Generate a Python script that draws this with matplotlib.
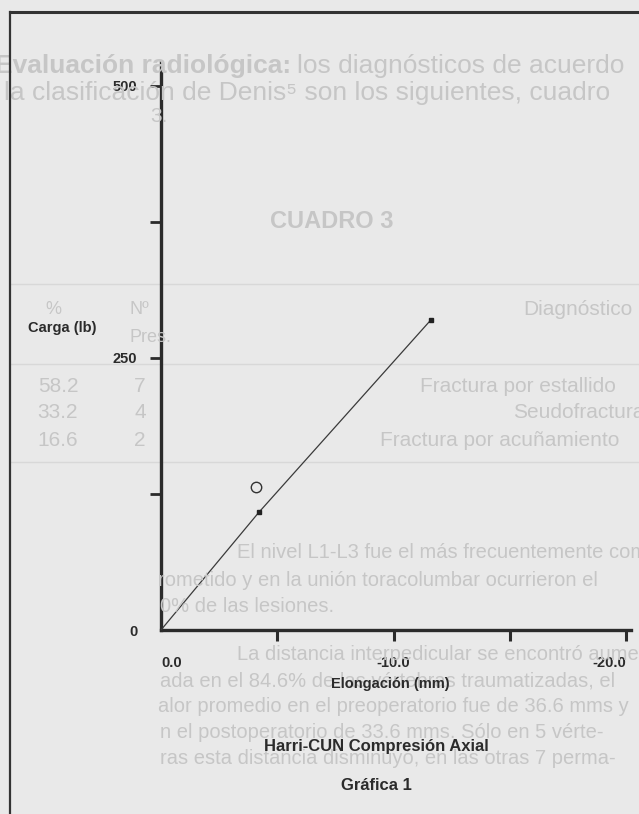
import matplotlib
matplotlib.use("Agg")
import matplotlib.pyplot as plt
from matplotlib.lines import Line2D

# ---- data ----
elong_line = [0.0, -4.2, -11.6]
carga_line = [0.0, 108.0, 285.0]
elong_open = [-4.1]
carga_open = [131.0]
x_ticks = [0.0, -5.0, -10.0, -15.0, -20.0]
x_ticklabels = ["0.0", "", "-10.0", "", "-20.0"]
y_ticks = [0, 125, 250, 375, 500]
y_ticklabels = ["0", "", "250", "", "500"]

W, H = 639, 814
BG = "#e9e9e9"
INK = "#2b2b2b"
GHOST = "#c6c6c6"
FONT = "Liberation Sans"

plt.rcParams["font.family"] = [FONT, "DejaVu Sans"]

fig = plt.figure(figsize=(W / 100, H / 100), dpi=100, facecolor=BG)


def px(x, y):
    return x / W, 1 - y / H


def gtext(x, y, s, size=15, weight="normal", ha="left"):
    fx, fy = px(x, y)
    return fig.text(fx, fy, s, fontsize=size, color=GHOST, weight=weight,
                    ha=ha, va="center", zorder=0)


# ---- faint show-through page text ----
t_bold = gtext(-5, 66, "Evaluación radiológica:", size=19, weight="bold")
fig.canvas.draw()
bb = t_bold.get_window_extent(renderer=fig.canvas.get_renderer())
gtext(bb.x1 + 6, 66, "los diagnósticos de acuerdo", size=19)
gtext(4, 93, "la clasificación de Denis⁵ son los siguientes, cuadro", size=19)
gtext(150, 117, "3.", size=15)
gtext(332, 222, "CUADRO 3", size=17, weight="bold", ha="center")
gtext(523, 309, "Diagnóstico")
gtext(139, 309, "Nº", size=13, ha="center")
gtext(53, 309, "%", size=13, ha="center")
gtext(150, 338, "Pres.", size=13, ha="center")
row_names = ["Fractura por estallido", "Seudofractura", "Fractura por acuñamiento"]
row_n = ["7", "4", "2"]
row_pct = ["58.2", "33.2", "16.6"]
row_y = [387, 413, 440]
row_x = [420, 513, 380]
for name, n, pct, yy, xx in zip(row_names, row_n, row_pct, row_y, row_x):
    gtext(xx, yy, name)
    gtext(140, yy, n, ha="center")
    gtext(58, yy, pct, ha="center")
for yy in (284, 364, 462):
    fig.add_artist(Line2D([10 / W, 1], [1 - yy / H] * 2, color="#d8d8d8",
                          lw=1, zorder=0))
gtext(237, 553, "El nivel L1-L3 fue el más frecuentemente com-", size=14.5)
gtext(158, 581, "rometido y en la unión toracolumbar ocurrieron el", size=14.5)
gtext(160, 606, "0% de las lesiones.", size=14.5)
gtext(237, 654, "La distancia interpedicular se encontró aumen-", size=14.5)
gtext(160, 681, "ada en el 84.6% de las vértebras traumatizadas, el", size=14.5)
gtext(158, 707, "alor promedio en el preoperatorio fue de 36.6 mms y", size=14.5)
gtext(160, 733, "n el postoperatorio de 33.6 mms. Sólo en 5 vérte-", size=14.5)
gtext(160, 759, "ras esta distancia disminuyó, en las otras 7 perma-", size=14.5)

# ---- frame of the figure box ----
fig.add_artist(Line2D([10 / W, 10 / W], [0, 1 - 12 / H], color="#333333",
                      lw=1.6, zorder=1))
fig.add_artist(Line2D([10 / W, 1], [1 - 12 / H, 1 - 12 / H], color="#333333",
                      lw=2.2, zorder=1))

# ---- chart ----
left, right = 161 / W, 631 / W
bottom, top = 1 - 630 / H, 1 - 62 / H
ax = fig.add_axes([left, bottom, right - left, top - bottom])
ax.set_facecolor("none")

ax.plot(elong_line, carga_line, color="#3a3a3a", lw=0.9, zorder=3)
ax.plot(elong_line[1:], carga_line[1:], ls="none", marker="s", ms=3.2,
        color="#222222", zorder=4)
ax.plot(elong_open, carga_open, ls="none", marker="o", ms=7.5,
        mfc="none", mec="#333333", mew=1.0, zorder=4)

ax.set_xlim(0, -20.2)
ax.set_ylim(0, 522)

for s in ("top", "right"):
    ax.spines[s].set_visible(False)
for s in ("left", "bottom"):
    ax.spines[s].set_linewidth(2.4)
    ax.spines[s].set_color(INK)

ax.set_xticks(x_ticks)
ax.set_xticklabels(x_ticklabels, fontsize=10.5, weight="bold", color=INK)
ax.set_yticks(y_ticks)
ax.set_yticklabels(y_ticklabels, fontsize=10.5, weight="bold", color=INK)
ax.tick_params(axis="x", direction="out", length=8, width=2.2, color=INK, pad=11)
ax.tick_params(axis="y", direction="out", length=8, width=2.0, color=INK, pad=9)
ax.xaxis.get_major_ticks()[0].tick1line.set_visible(False)
ax.yaxis.get_major_ticks()[0].tick1line.set_visible(False)
xl = ax.get_xticklabels()
xl[0].set_horizontalalignment("left")
xl[-1].set_horizontalalignment("right")

fig.text(*px(28, 328), "Carga (lb)", fontsize=10.5, weight="bold",
         color=INK, ha="left", va="center")
fig.text(*px(390, 684), "Elongación (mm)", fontsize=10.5, weight="bold",
         color=INK, ha="center", va="center")
fig.text(*px(376, 747), "Harri-CUN Compresión Axial", fontsize=12,
         weight="bold", color=INK, ha="center", va="center")
fig.text(*px(376, 786), "Gráfica 1", fontsize=12, weight="bold",
         color=INK, ha="center", va="center")

fig.savefig("out.png", dpi=100, facecolor=BG)
